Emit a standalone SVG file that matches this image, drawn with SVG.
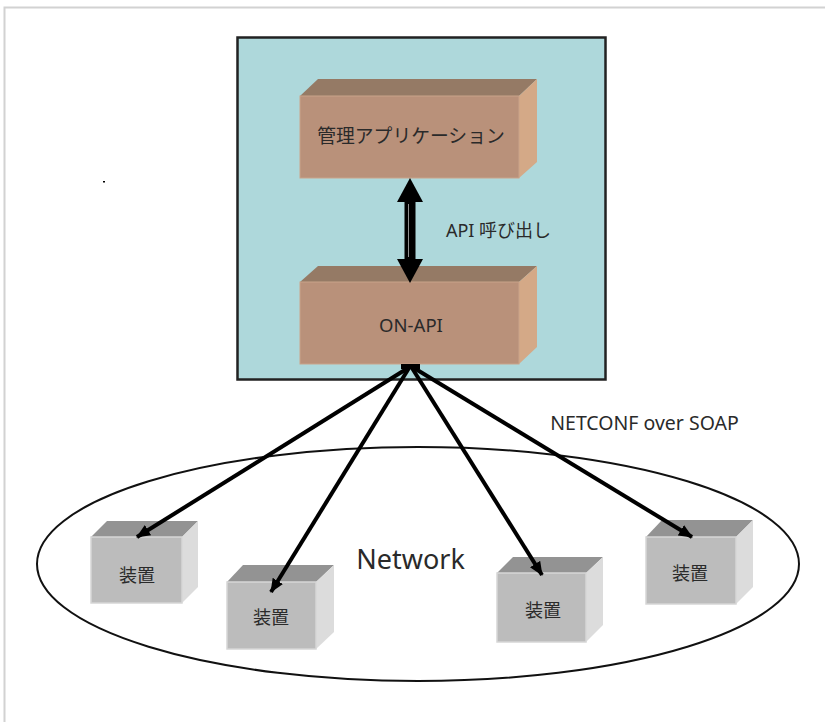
<svg xmlns="http://www.w3.org/2000/svg" width="825" height="722" viewBox="0 0 825 722">
<style>
.lbl{font-family:"Noto Sans","Noto Sans CJK JP",sans-serif;fill:#2a2a2a;text-anchor:middle}
.btop{fill:#957a65}.bfront{fill:#b9917a;stroke:#c9a38a;stroke-width:1}.bside{fill:#d4a987}
.gtop{fill:#939393}.gfront{fill:#bcbcbc;stroke:#d6d6d6;stroke-width:1.5}.gside{fill:#dcdcdc}
.conn{stroke:#000;fill:none;stroke-width:4}
</style>
<defs>
<marker id="ah" markerUnits="userSpaceOnUse" markerWidth="16" markerHeight="12" refX="13" refY="6" orient="auto">
<path d="M0,0 L14,6 L0,12 Z" fill="#000"/>
</marker>
</defs>
<rect width="825" height="722" fill="#fff"/>
<rect x="4.5" y="7.5" width="830" height="730" fill="none" stroke="#d2d2d2" stroke-width="2"/>
<rect x="103" y="181" width="2" height="1.5" fill="#000"/>

<g id="server">
<rect x="237.5" y="37.5" width="368" height="342" fill="#aed8db" stroke="#222" stroke-width="2.5"/>
</g>

<g id="app">
<polygon class="btop" points="300,96 318,79 537,79 519,96"/>
<polygon class="bside" points="519,96 537,79 537,162 519,178"/>
<rect class="bfront" x="300" y="96" width="219" height="82"/>
<text class="lbl" x="411" y="143" font-size="18.8">管理アプリケーション</text>
</g>

<g id="onapi">
<polygon class="btop" points="300,282 318,266 537,266 519,282"/>
<polygon class="bside" points="519,282 537,266 537,347 519,364"/>
<rect class="bfront" x="300" y="282" width="219" height="82"/>
<text class="lbl" x="411" y="332" font-size="18.5">ON-API</text>
</g>

<g id="network">
<ellipse cx="418" cy="564" rx="381" ry="117" fill="none" stroke="#111" stroke-width="2"/>
<text class="lbl" x="410.5" y="569" font-size="27">Network</text>
</g>

<g id="dev1">
<polygon class="gtop" points="91,537 107,521 198,521 182,537"/>
<polygon class="gside" points="182,537 198,521 198,587 182,603"/>
<rect class="gfront" x="91" y="537" width="91" height="66"/>
<text class="lbl" x="137" y="582" font-size="18">装置</text>
</g>
<g id="dev2">
<polygon class="gtop" points="227,582 243,565 334,565 316,582"/>
<polygon class="gside" points="316,582 334,565 334,632 316,649"/>
<rect class="gfront" x="227" y="582" width="89" height="67"/>
<text class="lbl" x="271" y="624" font-size="18">装置</text>
</g>
<g id="dev3">
<polygon class="gtop" points="497,573 513,557 603,557 586,573"/>
<polygon class="gside" points="586,573 603,557 603,625 586,642"/>
<rect class="gfront" x="497" y="573" width="89" height="69"/>
<text class="lbl" x="543" y="617" font-size="18">装置</text>
</g>
<g id="dev4">
<polygon class="gtop" points="646,537 662,520 753,520 736,537"/>
<polygon class="gside" points="736,537 753,520 753,587 736,604"/>
<rect class="gfront" x="646" y="537" width="90" height="67"/>
<text class="lbl" x="690" y="580" font-size="18">装置</text>
</g>

<g id="connectors">
<path d="M410,178 L423,202 L397,202 Z" fill="#000"/>
<path d="M410,283 L423,259 L397,259 Z" fill="#000"/>
<rect x="404.5" y="201" width="11" height="59" fill="#000"/>
<line x1="408.5" y1="204" x2="408.5" y2="257" stroke="#cfcfcf" stroke-width="0.7"/>
<text class="lbl" x="498.5" y="237" font-size="18">API 呼び出し</text>

<rect x="401" y="364" width="19" height="5" fill="#000"/>
<line class="conn" x1="408" y1="368" x2="137" y2="537" marker-end="url(#ah)"/>
<line class="conn" x1="409" y1="368" x2="271" y2="592" marker-end="url(#ah)"/>
<line class="conn" x1="412" y1="368" x2="542" y2="575" marker-end="url(#ah)"/>
<line class="conn" x1="414" y1="368" x2="692" y2="537" stroke-width="2.5" marker-end="url(#ah)"/>
<text class="lbl" x="644.5" y="430" font-size="19.5">NETCONF over SOAP</text>
</g>
</svg>
